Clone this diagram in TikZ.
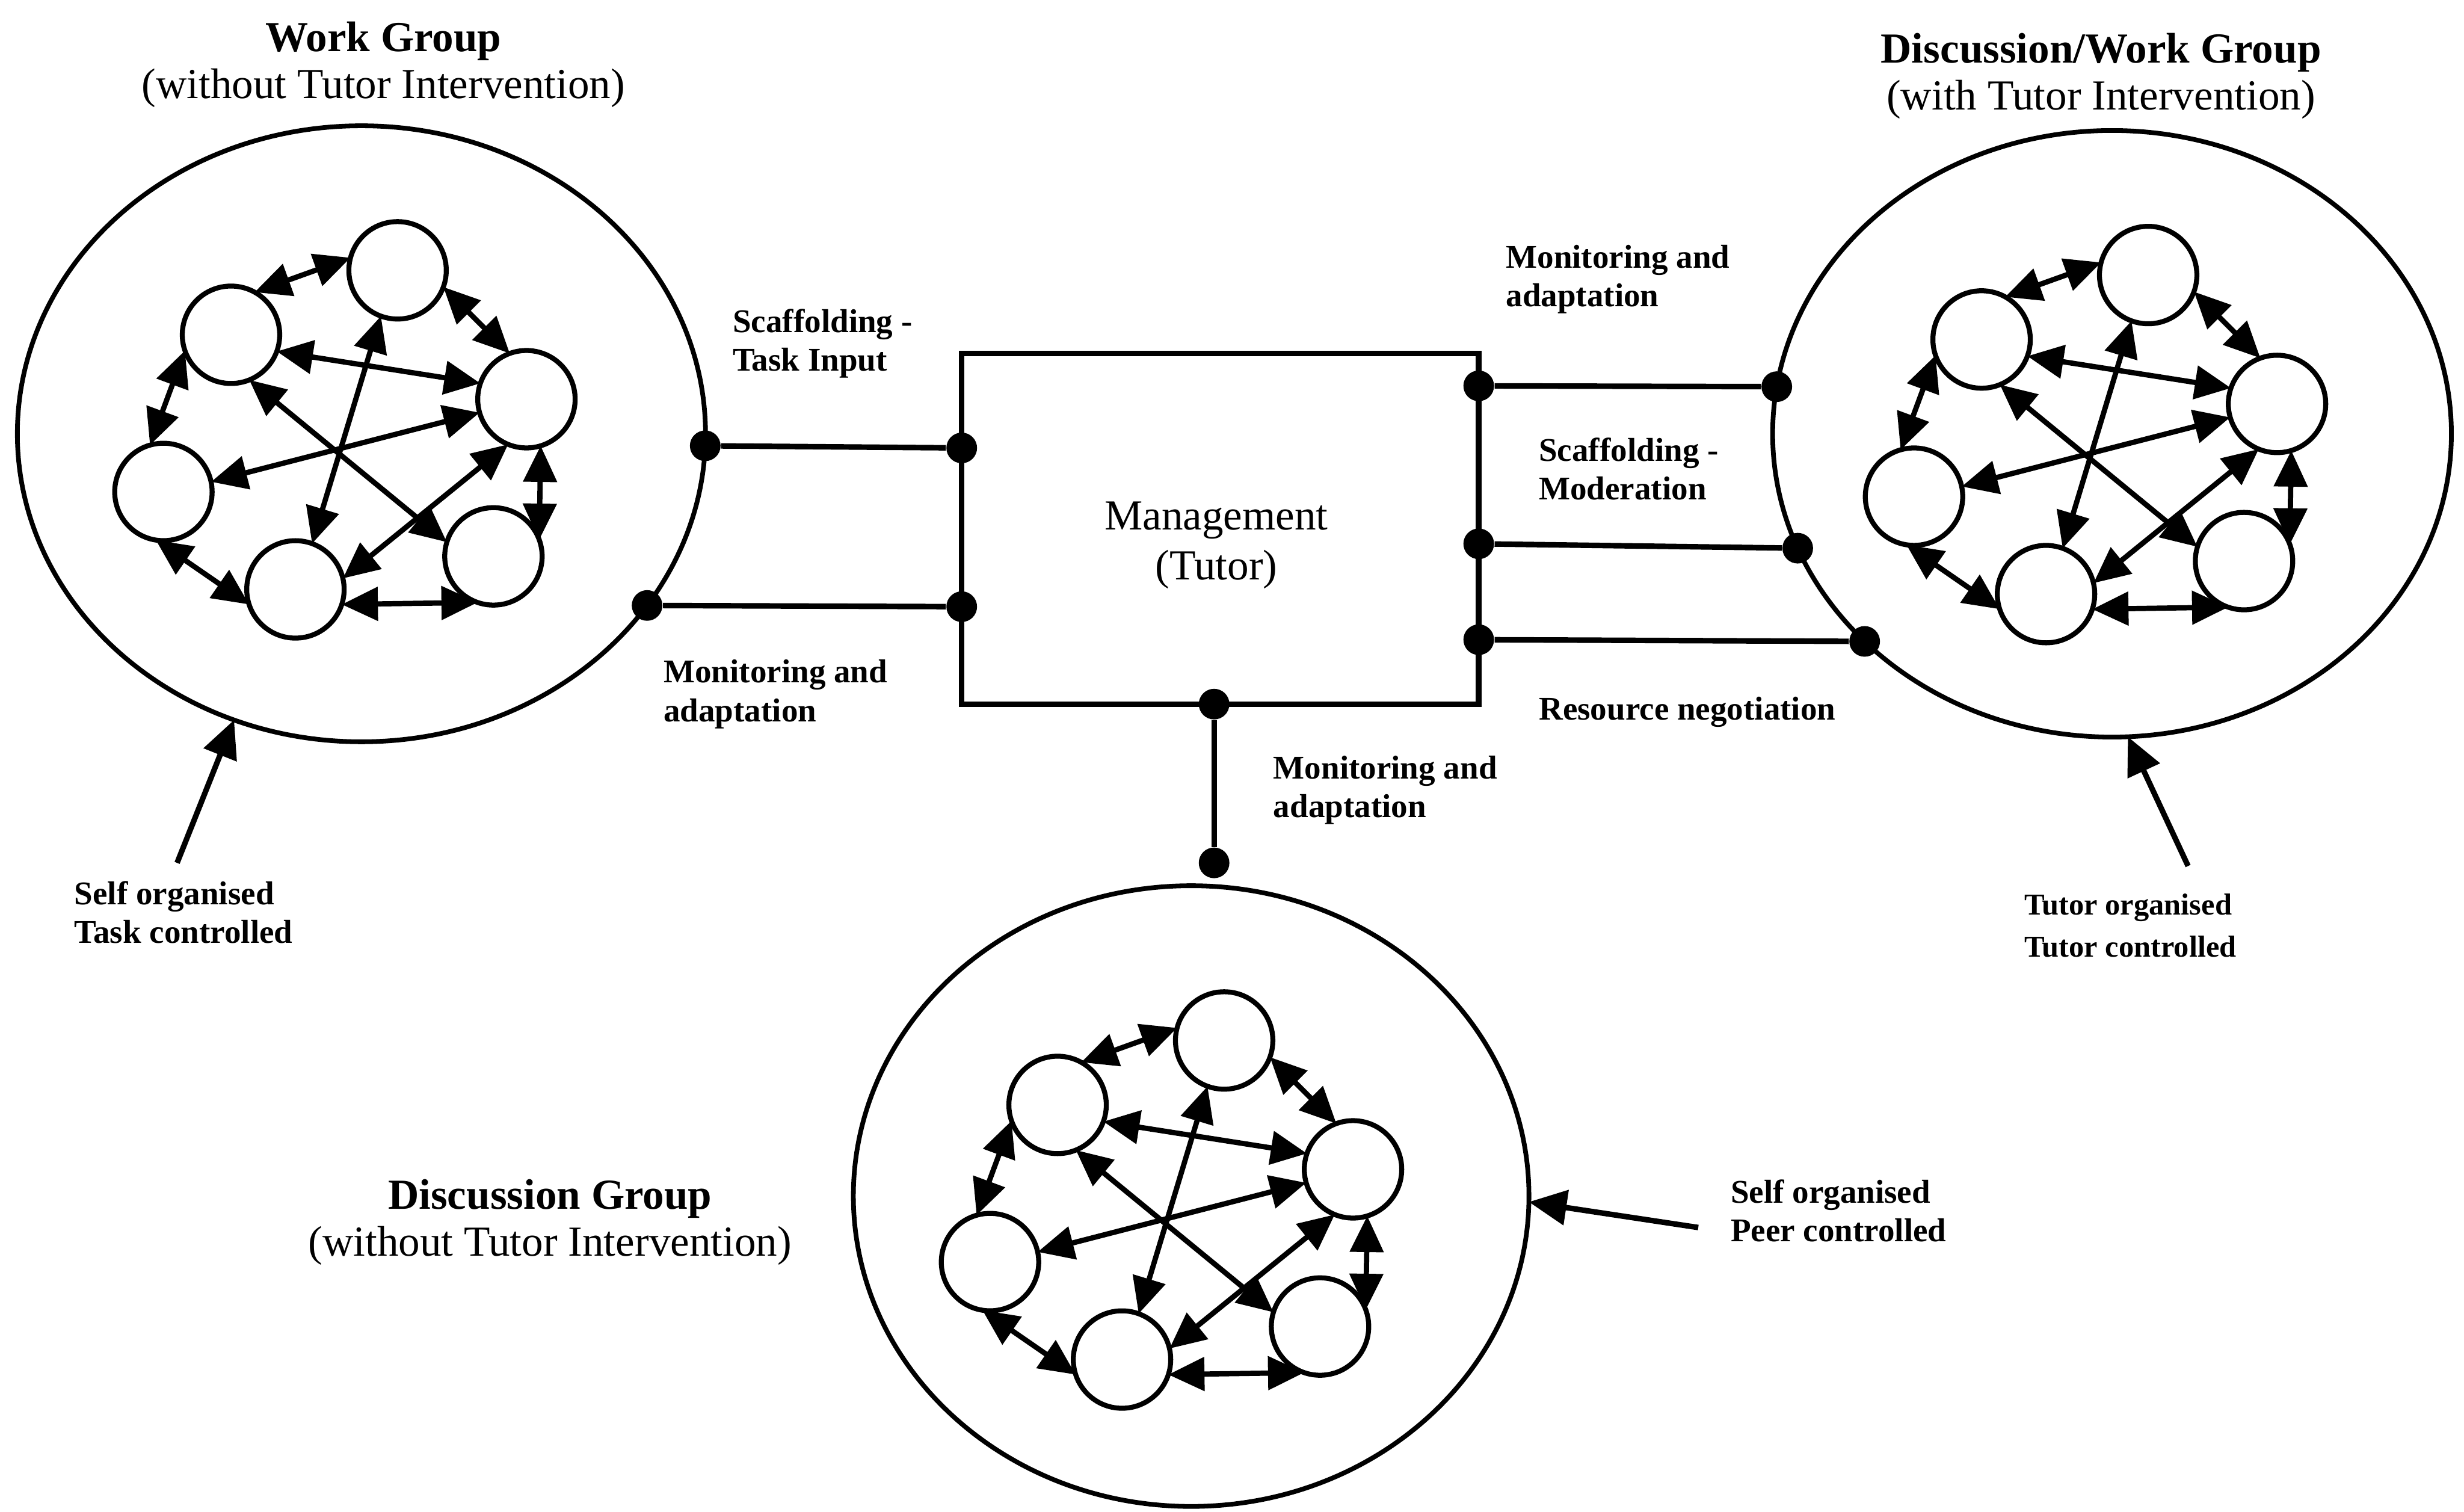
\documentclass[tikz,border=0pt]{standalone}
\usepackage{fontspec}
\setmainfont{Liberation Serif}
\usetikzlibrary{shapes.geometric,arrows.meta,calc}

\tikzset{
  member/.style={circle, draw, line width=1.8pt, minimum size=1.24cm, inner sep=0pt, outer sep=0pt},
  link/.style={{Triangle[length=0.46cm,width=0.42cm]}-{Triangle[length=0.46cm,width=0.42cm]}, line width=1.9pt},
  group/.style={ellipse, draw, line width=1.7pt, inner sep=0pt, outer sep=0pt},
  joint/.style={circle, fill, inner sep=0pt, minimum size=0.39cm},
  wire/.style={line width=2pt},
  pointer/.style={-{Triangle[length=0.48cm,width=0.44cm]}, line width=2pt},
  title/.style={font=\fontsize{15.5}{17}\selectfont, align=center, anchor=base, inner sep=0pt},
  note/.style={font=\fontsize{12}{14}\selectfont\bfseries, align=left, anchor=base west, inner sep=0pt},
}

% six members of a group, all linked in both directions
\newcommand{\peergroup}[3]{%
  \begin{scope}[shift={(#2,#3)}]
    \node[member] (#1a) at (253,172) {};
    \node[member] (#1b) at (147,213) {};
    \node[member] (#1c) at (335,254) {};
    \node[member] (#1d) at (104,313) {};
    \node[member] (#1e) at (188,375) {};
    \node[member] (#1f) at (314,354) {};
    \draw[link] (#1b.61) -- (#1a.165);
    \draw[link] (#1a.-20) -- (#1c.110);
    \draw[link] (#1b.-20) -- (#1c.161);
    \draw[link] (#1b.199) -- (#1d.106);
    \draw[link] (#1d.12) -- (#1c.196);
    \draw[link] (#1a.250) -- (#1e.70);
    \draw[link] (#1b.-68) -- (#1f.163);
    \draw[link] (#1c.248) -- (#1e.13);
    \draw[link] (#1c.-73) -- (#1f.20);
    \draw[link] (#1d.261) -- (#1e.198);
    \draw[link] (#1e.-18) -- (#1f.251);
  \end{scope}}

\begin{document}
\begin{tikzpicture}[x=0.02cm, y=-0.02cm]
\useasboundingbox (0,0) rectangle (1568,962);

% the three groups
\node[group, minimum width=8.76cm, minimum height=7.84cm] (wg) at (230,276) {};
\node[group, minimum width=8.64cm, minimum height=7.72cm] (dwg) at (1344,276) {};
\node[group, minimum width=8.60cm, minimum height=7.90cm] (dg) at (758,761) {};

\peergroup{wg}{0}{0}
\peergroup{dwg}{1114}{3}
\peergroup{dg}{526}{490}

% management box
\node[draw, wire, minimum width=6.58cm, minimum height=4.46cm, inner sep=0pt, outer sep=0pt] (mgmt) at (776.5,336.5) {};
\node[font=\fontsize{15.5}{18}\selectfont, align=center, inner sep=0pt] (mgmttext) at (774,347) {Management\\(Tutor)};

% junctions on the box
\node[joint] (mw1) at (612,285) {};
\node[joint] (mw2) at (612,386) {};
\node[joint] (me1) at (941,245.5) {};
\node[joint] (me2) at (941,346) {};
\node[joint] (me3) at (941,407) {};
\node[joint] (ms) at (772.6,448) {};

% junctions on the groups
\node[joint] (wgt) at (wg.-2.4) {};
\node[joint] (wgm) at (wg.-31.4) {};
\node[joint] (dwt) at (dwg.172.4) {};
\node[joint] (dwm) at (dwg.200.3) {};
\node[joint] (dwb) at (dwg.220.6) {};
\node[joint] (dgt) at (772.6,549) {};

% channels between box and groups
\draw[wire] (wgt) -- (mw1);
\draw[wire] (wgm) -- (mw2);
\draw[wire] (me1) -- (dwt);
\draw[wire] (me2) -- (dwm);
\draw[wire] (me3) -- (dwb);
\draw[wire] (ms) -- (dgt);

% titles (anchored on the baseline of the last line)
\node[title] (wgtitle) at (244,62.6) {\textbf{Work Group}\\(without Tutor Intervention)};
\node[title] (dwgtitle) at (1337,69.7) {\textbf{Discussion/Work Group}\\(with Tutor Intervention)};
\node[title] (dgtitle) at (350,799) {\textbf{Discussion Group}\\(without Tutor Intervention)};

% channel labels
\node[note] (l1) at (466,236) {Scaffolding -\\Task Input};
\node[note] (l2) at (422,459) {Monitoring and\\adaptation};
\node[note] (l3) at (958,195) {Monitoring and\\adaptation};
\node[note] (l4) at (979,318) {Scaffolding -\\Moderation};
\node[note] (l5) at (979,458) {Resource negotiation};
\node[note] (l6) at (810,520) {Monitoring and\\adaptation};

% group character labels and pointers
\node[note] (c1) at (47,600) {Self organised\\Task controlled};
\node[note, font=\fontsize{11}{15.4}\selectfont\bfseries] (c2) at (1288,609) {Tutor organised\\Tutor controlled};
\node[note] (c3) at (1101,790) {Self organised\\Peer controlled};

\coordinate (p1) at (112.7,549);
\coordinate (p2) at (1392.4,551);
\coordinate (p3) at (1080.7,781);
\draw[pointer] (p1) -- (wg.246.1);
\draw[pointer] (p2) -- (dwg.273.2);
\draw[pointer] (p3) -- (dg.-1);
\end{tikzpicture}
\end{document}
